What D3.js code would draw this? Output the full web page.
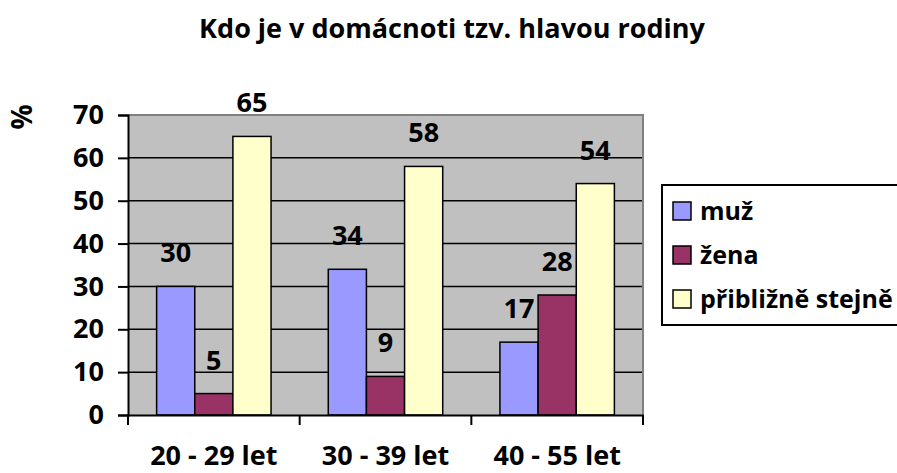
<!DOCTYPE html>
<html>
<head>
<meta charset="utf-8">
<script src="https://cdn.jsdelivr.net/npm/d3@7"></script>
<style>
  body { margin: 0; background: #fff; }
  svg text { font-family: "Open Sans", Lato, sans-serif; font-weight: bold; fill: #000; }
</style>
</head>
<body>
<svg id="chart" width="897" height="473"></svg>
<script>
// data
const categories = ['20 - 29 let', '30 - 39 let', '40 - 55 let'];
const seriesNames = ['muž', 'žena', 'přibližně stejně'];
const seriesColors = ['#9999ff', '#993366', '#ffffcc'];
const muz = [30, 34, 17];
const zena = [5, 9, 28];
const stejne = [65, 58, 54];
const yTicks = [0, 10, 20, 30, 40, 50, 60, 70];

const values = [muz, zena, stejne];

const svg = d3.select('#chart');
const plot = { left: 128, right: 643, top: 115, bottom: 415 };
const fontSize = 27;
const fontFamily = '"Open Sans", Lato, sans-serif';

// --- title ---
svg.append('text')
  .attr('x', 452).attr('y', 38)
  .attr('text-anchor', 'middle')
  .style('font-size', fontSize + 'px')
  .text('Kdo je v domácnoti tzv. hlavou rodiny');

// --- scales ---
const x = d3.scaleBand().domain(categories).range([plot.left, plot.right]);
const xSub = d3.scaleBand().domain(seriesNames).range([0, x.bandwidth()])
  .paddingInner(0).paddingOuter(0.75);
const y = d3.scaleLinear().domain([0, 70]).range([plot.bottom, plot.top]);

// plot background
svg.append('rect')
  .attr('x', plot.left).attr('y', plot.top)
  .attr('width', plot.right - plot.left).attr('height', plot.bottom - plot.top)
  .attr('fill', '#c0c0c0');

// gridlines (black), top one is the gray border
svg.append('g').selectAll('line')
  .data(yTicks.filter(t => t > 0 && t < 70))
  .join('line')
  .attr('x1', plot.left).attr('x2', plot.right)
  .attr('y1', d => y(d)).attr('y2', d => y(d))
  .attr('stroke', '#000').attr('stroke-width', 1.5);

svg.append('path')
  .attr('d', `M${plot.left},${plot.top}H${plot.right}V${plot.bottom}`)
  .attr('fill', 'none').attr('stroke', '#808080').attr('stroke-width', 2);

// --- bars ---
const groups = svg.append('g').selectAll('g')
  .data(categories)
  .join('g')
  .attr('transform', d => `translate(${x(d)},0)`);

groups.each(function(cat, ci) {
  const g = d3.select(this);
  seriesNames.forEach((s, si) => {
    const v = values[si][ci];
    g.append('rect')
      .attr('x', xSub(s)).attr('y', y(v))
      .attr('width', xSub.bandwidth()).attr('height', y(0) - y(v))
      .attr('fill', seriesColors[si])
      .attr('stroke', '#000').attr('stroke-width', 1.5);
    g.append('text')
      .attr('x', xSub(s) + xSub.bandwidth() / 2)
      .attr('y', y(v) - 24)
      .attr('text-anchor', 'middle')
      .style('font-size', fontSize + 'px')
      .text(v);
  });
});

// --- y axis ---
const yAxis = d3.axisLeft(y).tickValues(yTicks).tickSize(10).tickPadding(14);
const yG = svg.append('g').attr('transform', `translate(${plot.left},0)`).call(yAxis);
yG.select('.domain').attr('stroke', '#000').attr('stroke-width', 2);
yG.selectAll('.tick line').attr('stroke', '#000').attr('stroke-width', 2);
yG.selectAll('.tick text').style('font-size', fontSize + 'px')
  .style('font-family', fontFamily).attr('fill', '#000');

// --- x axis ---
const xAxis = d3.axisBottom(x).tickSize(0).tickPadding(0);
const xG = svg.append('g').attr('transform', `translate(0,${plot.bottom})`).call(xAxis);
xG.select('.domain').attr('stroke', '#000').attr('stroke-width', 2);
xG.selectAll('.tick text').style('font-size', fontSize + 'px')
  .style('font-family', fontFamily).attr('fill', '#000')
  .attr('y', 50).attr('dy', null);
// tick marks between categories
const tickXs = categories.map(c => x(c)).concat([plot.right]);
xG.selectAll('.cat-tick')
  .data(tickXs)
  .join('line')
  .attr('class', 'cat-tick')
  .attr('x1', d => d).attr('x2', d => d)
  .attr('y1', 0).attr('y2', 10)
  .attr('stroke', '#000').attr('stroke-width', 2);

// --- y axis title ---
svg.append('text')
  .attr('transform', 'translate(32,117) rotate(-90)')
  .attr('text-anchor', 'middle')
  .style('font-size', '28px')
  .text('%');

// --- legend ---
const legend = svg.append('g').attr('transform', 'translate(662,185)');
legend.append('rect')
  .attr('width', 245).attr('height', 140)
  .attr('fill', '#fff').attr('stroke', '#000').attr('stroke-width', 2);
seriesNames.forEach((s, i) => {
  const row = legend.append('g').attr('transform', `translate(11,${17 + i * 44})`);
  row.append('rect')
    .attr('width', 18).attr('height', 18)
    .attr('fill', seriesColors[i]).attr('stroke', '#000').attr('stroke-width', 1.5);
  row.append('text')
    .attr('x', 27).attr('y', 18)
    .style('font-size', '25px')
    .text(s);
});
</script>
</body>
</html>
